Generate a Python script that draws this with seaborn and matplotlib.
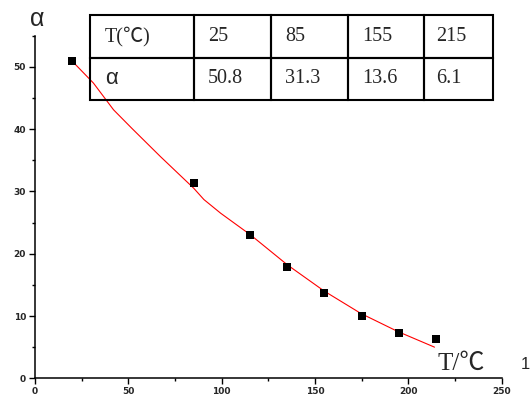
import matplotlib
matplotlib.use("Agg")
import matplotlib.pyplot as plt
import seaborn as sns
import numpy as np
import pandas as pd
from matplotlib.ticker import MultipleLocator

# measured points
temp = [20, 85, 115, 135, 155, 175, 195, 215]
alpha = [50.9, 31.4, 23.0, 17.9, 13.7, 10.0, 7.2, 6.3]

# fitted curve
fit_t = [20.3, 31.3, 42.1, 52.0, 67.2, 85.1, 90.5, 99.5, 115.6, 135.3, 155.0, 174.7, 194.5, 214.1]
fit_a = [50.8, 47.4, 43.1, 40.1, 35.6, 30.5, 28.7, 26.5, 23.0, 18.2, 14.0, 10.4, 7.5, 5.0]

# inset table
tbl_head = ["T(℃)", "25", "85", "155", "215"]
tbl_alpha = ["α", "50.8", "31.3", "13.6", "6.1"]

sns.set_style("ticks")
serif = ["Liberation Serif", "Noto Sans CJK SC"]
sans = ["Liberation Sans", "DejaVu Sans"]

fig = plt.figure(figsize=(5.31, 4.01), dpi=100)
ax = fig.add_axes([35 / 531, 1 - 378.3 / 401, 466.5 / 531, 342.6 / 401])

df_pts = pd.DataFrame({"T": temp, "a": alpha})
df_fit = pd.DataFrame({"T": fit_t, "a": fit_a})

sns.lineplot(data=df_fit, x="T", y="a", color="red", linewidth=0.8, sort=True, ax=ax)
sns.scatterplot(data=df_pts, x="T", y="a", marker="s", s=26, color="black",
                edgecolor="black", linewidth=0, ax=ax, zorder=3)

ax.set_xlim(0, 250)
ax.set_ylim(0, 55)
ax.set_xlabel("")
ax.set_ylabel("")
ax.xaxis.set_major_locator(MultipleLocator(50))
ax.xaxis.set_minor_locator(MultipleLocator(25))
ax.yaxis.set_minor_locator(MultipleLocator(5))
ax.set_yticks([0, 10, 20, 30, 40, 50])
ax.tick_params(which="major", length=4.5, width=1.0, labelsize=6.5, pad=2, color="black")
ax.tick_params(which="minor", length=2.5, width=1.0, color="black")
for lab in ax.get_xticklabels() + ax.get_yticklabels():
    lab.set_fontweight("bold")
    lab.set_family("DejaVu Sans")

sns.despine(ax=ax)
for sp in ["left", "bottom"]:
    ax.spines[sp].set_linewidth(1.1)
    ax.spines[sp].set_color("black")

# axis captions
fig.text(37 / 531, 1 - 19 / 401, "α", family=sans, fontsize=18, ha="center", va="center")
fig.text(437 / 531, 1 - 370 / 401, "T/℃", family=serif, fontsize=18, ha="left", va="baseline")
fig.text(521 / 531, 1 - 369 / 401, "1", family=sans, fontsize=12, ha="left", va="baseline")

# table (transparent cells so the curve shows through)
tax = fig.add_axes([90 / 531, 1 - 100 / 401, 403 / 531, 85 / 401])
tax.axis("off")
tax.patch.set_alpha(0)
widths = np.array([104, 77, 77, 76, 69], dtype=float)
widths = widths / widths.sum()
tb = tax.table(cellText=[tbl_head, tbl_alpha], colWidths=list(widths),
               cellLoc="left", bbox=[0, 0, 1, 1])
tb.auto_set_font_size(False)
pads = [15, 14, 14, 14, 12]
for (r, c), cell in tb.get_celld().items():
    cell.set_linewidth(1.5)
    cell.set_edgecolor("black")
    cell.set_facecolor("none")
    cell.PAD = pads[c] / (widths[c] * 403)
    txt = cell.get_text()
    if r == 1 and c == 0:
        txt.set_family(sans)
        txt.set_fontsize(16)
    else:
        txt.set_family(serif)
        txt.set_fontsize(14.5)

fig.savefig("out.png", dpi=100)
